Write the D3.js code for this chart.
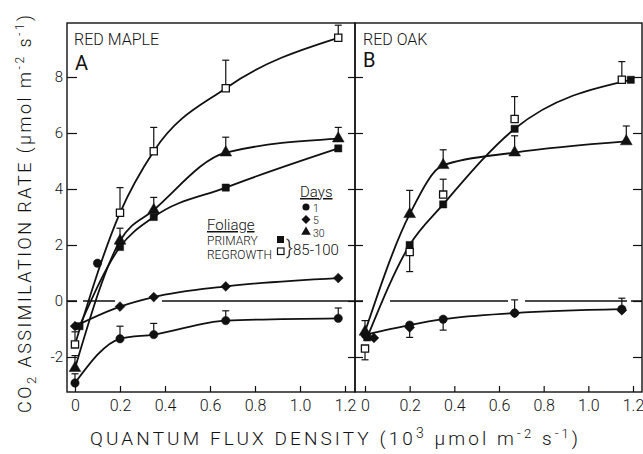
<!DOCTYPE html>
<html>
<head>
<meta charset="utf-8">
<script src="https://cdn.jsdelivr.net/npm/d3@7"></script>
<style>
  body { margin: 0; background: #fff; }
  svg { display: block; font-family: Roboto, "Liberation Sans", sans-serif; font-weight: 300; }
  .tick text { font-family: Roboto, sans-serif; font-weight: 300; fill: #111; }
  .tick line { stroke: #111; stroke-width: 1.2; }
</style>
</head>
<body>
<div id="chart"></div>
<script>
// tick values
const xTicks = [0, 0.2, 0.4, 0.6, 0.8, 1.0, 1.2];
const yTicks = [-2, 0, 2, 4, 6, 8];

// --- Red maple (panel A) ---
const mapleX = [0, 0.2, 0.35, 0.67, 1.17];
const mapleDay1 = [-2.93, -1.35, -1.2, -0.7, -0.62];
const mapleDay1Err = [-2.6, -0.9, -0.8, -0.35, -0.25];
const mapleDay5 = [-0.9, -0.2, 0.14, 0.52, 0.82];
const mapleDay30 = [-2.4, 2.15, 3.25, 5.3, 5.8];
const mapleDay30Err = [-1.95, 2.6, 3.7, 5.85, 6.2];
const maplePrimaryX = [0.02, 0.2, 0.35, 0.67, 1.17];
const maplePrimary = [-0.9, 1.93, 3.0, 4.05, 5.45];
const mapleRegrowth = [-1.55, 3.15, 5.35, 7.6, 9.4];
const mapleRegrowthErr = [-1.1, 4.05, 6.2, 8.6, 9.85];
const mapleExtraX = [0.1];
const mapleExtra = [1.35];

// --- Red oak (panel B) ---
const oakX = [0, 0.2, 0.35, 0.67, 1.15];
const oakDay1 = [-1.2, -0.86, -0.65, -0.43, -0.29];
const oakDay1Err = [null, -1.3, -1.04, 0.04, 0.1];
const oakDay5X = [0.04, 0.2, 0.67, 1.15];
const oakDay5 = [-1.32, -0.95, -0.43, -0.33];
const oakDay30X = [0, 0.2, 0.35, 0.67, 1.17];
const oakDay30 = [-1.1, 3.1, 4.85, 5.3, 5.7];
const oakDay30Err = [-0.7, 3.95, 5.4, 5.9, 6.25];
const oakPrimaryX = [0.01, 0.2, 0.35, 0.67, 1.19];
const oakPrimary = [-1.3, 2.0, 3.45, 6.15, 7.9];
const oakRegrowthX = [0, 0.2, 0.35, 0.67, 1.15];
const oakRegrowth = [-1.7, 1.75, 3.8, 6.5, 7.9];
const oakRegrowthErr = [-2.1, 1.05, 4.35, 7.3, 8.55];

// legend entries
const legendDays = ["1", "5", "30"];
const legendShapes = ["circle", "diamond", "triangle"];

const W = 643, H = 454;
const frameTop = 23, frameBottom = 392;
const panelA = {left: 67, right: 355};
const panelB = {left: 355, right: 642};

const svg = d3.select("#chart").append("svg")
  .attr("width", W).attr("height", H);

const xA = d3.scaleLinear().domain([0, 1.2]).range([75, 345]);
const xB = d3.scaleLinear().domain([0, 1.2]).range([365, 633]);
const y = d3.scaleLinear().domain([0, 8]).range([301, 77]);

const fmt = d => d === 0 ? "0" : d3.format(".1f")(d);

// frames
[panelA, panelB].forEach(p => {
  svg.append("rect")
    .attr("x", p.left).attr("y", frameTop)
    .attr("width", p.right - p.left).attr("height", frameBottom - frameTop)
    .attr("fill", "none").attr("stroke", "#111").attr("stroke-width", 1.4);
});

// bottom axes
[xA, xB].forEach(sc => {
  const g = svg.append("g")
    .attr("transform", `translate(0,${frameBottom})`)
    .call(d3.axisBottom(sc).tickValues(xTicks).tickFormat(fmt)
      .tickSizeInner(-6).tickSizeOuter(0).tickPadding(8));
  g.select(".domain").remove();
  g.selectAll("text").style("font-size", "16px");
});

// left axis of A with labels
const gy = svg.append("g")
  .attr("transform", `translate(${panelA.left},0)`)
  .call(d3.axisLeft(y).tickValues(yTicks).tickFormat(d3.format("d"))
    .tickSizeInner(-10).tickSizeOuter(0).tickPadding(4));
gy.select(".domain").remove();
gy.selectAll("text").style("font-size", "15px");
gy.selectAll("text").text(d => d < 0 ? "-" + Math.abs(d) : d);

// middle ticks crossing the shared border
const gm = svg.append("g")
  .attr("transform", `translate(${panelB.left + 8},0)`)
  .call(d3.axisLeft(y).tickValues(yTicks).tickFormat("").tickSizeInner(15).tickSizeOuter(0));
gm.select(".domain").remove();

// right ticks of B
const gr = svg.append("g")
  .attr("transform", `translate(${panelB.right},0)`)
  .call(d3.axisRight(y).tickValues(yTicks).tickFormat("").tickSizeInner(-9).tickSizeOuter(0));
gr.select(".domain").remove();

// zero reference lines (long broken dashes)
svg.append("line")
  .attr("x1", panelA.left).attr("x2", panelA.right)
  .attr("y1", y(0)).attr("y2", y(0))
  .attr("stroke", "#111").attr("stroke-width", 1.4)
  .attr("stroke-dasharray", "10,6,32,47,400");
svg.append("line")
  .attr("x1", panelB.left).attr("x2", panelB.right)
  .attr("y1", y(0)).attr("y2", y(0))
  .attr("stroke", "#111").attr("stroke-width", 1.4)
  .attr("stroke-dasharray", "8,27,118,17,102,4,20");

const line = sc => d3.line().x(d => sc(d[0])).y(d => y(d[1])).curve(d3.curveMonotoneX);
const zip = (xs, ys) => xs.map((x, i) => [x, ys[i]]);

function curve(sc, xs, ys) {
  svg.append("path").datum(zip(xs, ys))
    .attr("d", line(sc))
    .attr("fill", "none").attr("stroke", "#111").attr("stroke-width", 1.8);
}

function errBars(sc, xs, ys, ends) {
  const d = xs.map((x, i) => ({x, y: ys[i], e: ends[i]})).filter(d => d.e != null);
  const g = svg.append("g").attr("stroke", "#111").attr("stroke-width", 1.2);
  g.selectAll(".v").data(d).join("line")
    .attr("x1", d => sc(d.x)).attr("x2", d => sc(d.x))
    .attr("y1", d => y(d.y)).attr("y2", d => y(d.e));
  g.selectAll(".c").data(d).join("line")
    .attr("x1", d => sc(d.x) - 3.5).attr("x2", d => sc(d.x) + 3.5)
    .attr("y1", d => y(d.e)).attr("y2", d => y(d.e));
}

const shapes = {
  circle: d3.symbol().type(d3.symbolCircle).size(55),
  diamond: d3.symbol().type(d3.symbolSquare).size(48),
  triangle: d3.symbol().type(d3.symbolTriangle).size(60),
  square: d3.symbol().type(d3.symbolSquare).size(52)
};

function marks(sc, xs, ys, shape, open) {
  const rot = shape === "diamond" ? " rotate(45)" : "";
  svg.append("g").selectAll("path").data(zip(xs, ys)).join("path")
    .attr("transform", d => `translate(${sc(d[0])},${y(d[1])})${rot}`)
    .attr("d", shapes[shape])
    .attr("fill", open ? "#fff" : "#111")
    .attr("stroke", "#111").attr("stroke-width", open ? 1.3 : 0.5);
}

// panel A
curve(xA, mapleX, mapleDay1);
curve(xA, mapleX, mapleDay5);
curve(xA, mapleX, mapleDay30);
curve(xA, maplePrimaryX, maplePrimary);
curve(xA, mapleX, mapleRegrowth);
errBars(xA, mapleX, mapleDay1, mapleDay1Err);
errBars(xA, mapleX, mapleDay30, mapleDay30Err);
errBars(xA, mapleX, mapleRegrowth, mapleRegrowthErr);
marks(xA, mapleX, mapleDay1, "circle");
marks(xA, mapleExtraX, mapleExtra, "circle");
marks(xA, mapleX, mapleDay5, "diamond");
marks(xA, mapleX, mapleDay30, "triangle");
marks(xA, maplePrimaryX, maplePrimary, "square");
marks(xA, mapleX, mapleRegrowth, "square", true);

// panel B
curve(xB, oakX, oakDay1);
curve(xB, oakDay30X, oakDay30);
curve(xB, oakPrimaryX, oakPrimary);
errBars(xB, oakX, oakDay1, oakDay1Err);
errBars(xB, oakDay30X, oakDay30, oakDay30Err);
errBars(xB, oakRegrowthX, oakRegrowth, oakRegrowthErr);
marks(xB, oakX, oakDay1, "circle");
marks(xB, oakDay5X, oakDay5, "diamond");
marks(xB, oakDay30X, oakDay30, "triangle");
marks(xB, oakRegrowthX, oakRegrowth, "square", true);
marks(xB, oakPrimaryX, oakPrimary, "square");

// panel titles
function label(x, yy, txt, size, anchor) {
  return svg.append("text").attr("x", x).attr("y", yy)
    .attr("font-size", size).attr("text-anchor", anchor || "start")
    .attr("fill", "#111").text(txt);
}
label(74, 45, "RED MAPLE", 16);
label(75, 70, "A", 20).attr("font-weight", 400);
label(363, 45, "RED OAK", 16);
label(363, 67, "B", 20).attr("font-weight", 400);

// legend
label(300, 197, "Days", 15).attr("text-decoration", "underline");
legendDays.forEach((t, i) => {
  const yy = 207 + i * 12.5;
  svg.append("path")
    .attr("transform", `translate(306,${yy})${legendShapes[i] === "diamond" ? " rotate(45)" : ""}`)
    .attr("d", d3.symbol().type(legendShapes[i] === "circle" ? d3.symbolCircle
      : legendShapes[i] === "diamond" ? d3.symbolSquare : d3.symbolTriangle).size(40))
    .attr("fill", "#111");
  label(313, yy + 4.5, t, 10.5);
});
label(207, 230, "Foliage", 15).attr("text-decoration", "underline");
label(207, 245, "PRIMARY", 12);
label(207, 259, "REGROWTH", 12);
svg.append("rect").attr("x", 277).attr("y", 236).attr("width", 7).attr("height", 7)
  .attr("fill", "#111");
svg.append("rect").attr("x", 277.5).attr("y", 248).attr("width", 6.5).attr("height", 6.5)
  .attr("fill", "#fff").attr("stroke", "#111").attr("stroke-width", 1.2);
label(286, 254, "}", 21);
label(293, 255, "85-100", 15);

// axis titles
function rich(g, parts) {
  parts.forEach(p => {
    g.append("tspan").attr("dy", p.dy || 0)
      .attr("font-size", p.size || null).text(p.t);
  });
}
const yt = svg.append("text")
  .attr("transform", "translate(31,214) rotate(-90)")
  .attr("text-anchor", "middle").attr("font-size", 18).attr("fill", "#111")
  .attr("textLength", 398).attr("lengthAdjust", "spacing");
rich(yt, [
  {t: "CO"}, {t: "2", dy: 5, size: 13}, {t: " ASSIMILATION RATE  (μmol m", dy: -5},
  {t: "-2", dy: -7, size: 12}, {t: " s", dy: 7}, {t: "-1", dy: -7, size: 12}, {t: ")", dy: 7}
]);

const xt = svg.append("text")
  .attr("x", 334).attr("y", 445)
  .attr("text-anchor", "middle").attr("font-size", 19).attr("fill", "#111")
  .attr("textLength", 488).attr("lengthAdjust", "spacing");
rich(xt, [
  {t: "QUANTUM FLUX DENSITY  (10"}, {t: "3", dy: -7, size: 14},
  {t: "  μmol  m", dy: 7}, {t: "-2", dy: -7, size: 13}, {t: " s", dy: 7},
  {t: "-1", dy: -7, size: 13}, {t: ")", dy: 7}
]);
</script>
</body>
</html>
